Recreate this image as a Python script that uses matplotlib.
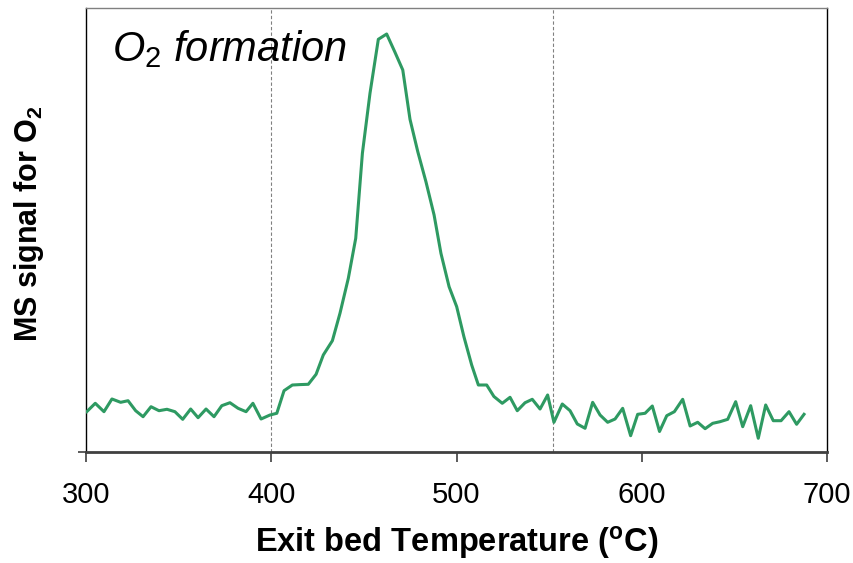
import matplotlib
matplotlib.use("Agg")
import matplotlib.pyplot as plt

plt.rcParams['font.family'] = ['Liberation Sans', 'DejaVu Sans']
plt.rcParams['mathtext.fontset'] = 'custom'
plt.rcParams['mathtext.rm'] = 'Liberation Sans'
plt.rcParams['mathtext.it'] = 'Liberation Sans:italic'
plt.rcParams['mathtext.bf'] = 'Liberation Sans:bold'

temperature = [300.4, 305.0, 309.7, 314.0, 318.7, 322.7, 326.8, 330.8, 335.1, 339.4,
               343.7, 348.0, 352.2, 356.5, 360.5, 364.8, 369.1, 373.3, 377.7, 382.1,
               386.4, 390.1, 394.5, 399.3, 403.0, 406.9, 411.4, 415.5, 420.0, 424.2,
               428.1, 433.0, 437.1, 441.6, 445.6, 449.2, 453.3, 457.8, 462.3, 466.8,
               471.0, 474.9, 479.1, 483.5, 487.9, 491.6, 496.0, 500.1, 504.0, 508.2,
               511.8, 516.3, 520.2, 524.7, 528.9, 532.8, 537.0, 540.9, 545.1, 549.2,
               552.6, 557.1, 561.3, 565.2, 569.4, 573.5, 577.5, 581.6, 585.6, 589.7,
               594.0, 597.8, 601.8, 605.7, 609.6, 613.5, 617.6, 622.1, 626.1, 630.2,
               634.2, 638.3, 642.2, 646.4, 650.7, 654.5, 658.8, 662.9, 666.9, 671.0,
               675.2, 679.5, 683.6, 687.6]
o2_signal = [9.08, 10.97, 9.08, 11.94, 11.19, 11.55, 9.30, 7.95, 10.20, 9.30,
             9.62, 9.08, 7.36, 9.68, 7.73, 9.68, 7.95, 10.43, 11.10, 9.84,
             9.08, 10.97, 7.43, 8.33, 8.72, 13.81, 15.09, 15.18, 15.25, 17.50,
             21.85, 25.07, 31.24, 39.12, 48.13, 67.27, 80.79, 92.95, 94.14, 90.02,
             86.04, 74.93, 67.64, 60.88, 53.38, 44.75, 37.23, 32.73, 25.97, 19.59,
             15.09, 15.09, 12.50, 10.97, 12.32, 9.30, 11.10, 11.87, 9.68, 12.84,
             6.69, 10.81, 9.30, 6.31, 5.34, 11.19, 8.33, 6.69, 7.43, 9.84,
             3.67, 8.49, 8.72, 10.36, 4.62, 8.18, 9.08, 11.87, 5.86, 6.69,
             5.25, 6.46, 6.82, 7.36, 11.33, 5.70, 10.43, 3.09, 10.59, 7.05,
             7.05, 9.08, 6.24, 8.49]
x_ticks = [300, 400, 500, 600, 700]
region_bounds = [400, 552]

fig = plt.figure(figsize=(8.54, 5.63), dpi=100)
ax = fig.add_axes([86/854, 1 - 452/563, (827 - 86)/854, (452 - 8)/563])

for xb in region_bounds:
    ax.axvline(xb, color='#808080', linestyle=(0, (3, 2)), linewidth=0.8, zorder=1)

ax.plot(temperature, o2_signal, color='#2E9A62', linewidth=2.2, zorder=3)

ax.set_xlim(300, 700)
ax.set_ylim(0, 100)
ax.set_xticks(x_ticks)
ax.set_xticklabels([str(t) for t in x_ticks], fontsize=21)
ax.set_yticks([0])
ax.set_yticklabels([''])
ax.tick_params(axis='x', direction='out', length=7, width=1.2, color='#404040', pad=14)
ax.tick_params(axis='y', direction='out', length=6, width=1.2, color='#404040')

for side in ['top', 'right', 'left']:
    ax.spines[side].set_linewidth(1.0)
    ax.spines[side].set_color('black')
ax.spines['top'].set_color('#808080')
ax.spines['bottom'].set_linewidth(2.0)
ax.spines['bottom'].set_color('#404040')

ax.set_xlabel(r'Exit bed Temperature ($^\mathbf{o}$C)', fontsize=23.5, fontweight='bold', labelpad=11)
ax.set_ylabel(r'MS signal for O$_\mathbf{2}$', fontsize=22, fontweight='bold')
ax.yaxis.set_label_coords(-0.054, 0.515)

ax.text(0.035, 0.955, r'$O_2$ formation', transform=ax.transAxes, fontsize=30,
        style='italic', ha='left', va='top')

fig.savefig('out.png', dpi=100)
